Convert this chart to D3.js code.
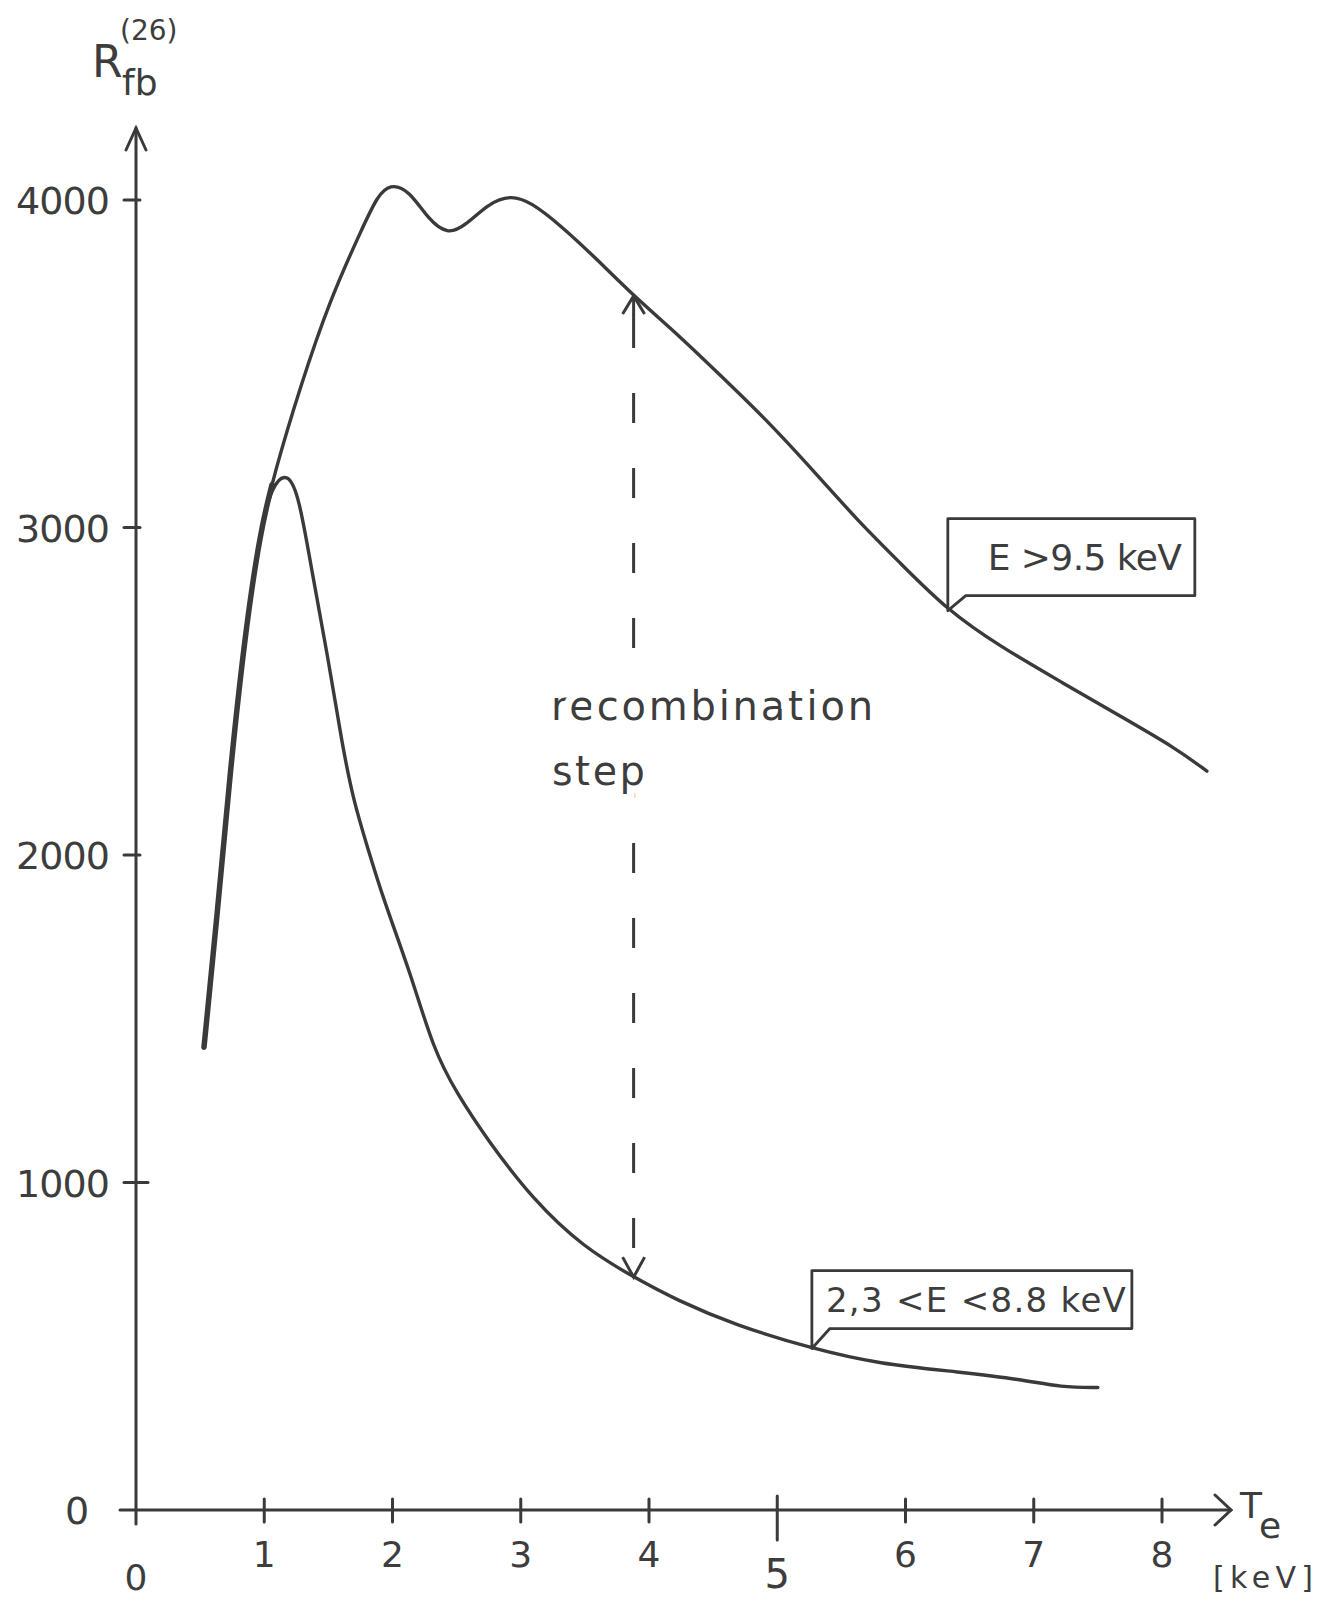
<!DOCTYPE html>
<html>
<head>
<meta charset="utf-8">
<script src="https://cdn.jsdelivr.net/npm/d3@7"></script>
<style>
  body { margin: 0; background: #fff; }
  text { font-family: "DejaVu Sans", sans-serif; fill: #3d3d3d; }
</style>
</head>
<body>
<div id="chart"></div>
<script>
// Values: [Te in keV, R_fb]
var xTicks = [1, 2, 3, 4, 5, 6, 7, 8];
var yTicks = [1000, 2000, 3000, 4000];

var upperCurve = [
  [0.53, 1413], [0.63, 1803], [0.73, 2240], [0.85, 2677], [0.97, 2990],
  [1.08, 3167], [1.28, 3429], [1.51, 3694], [1.77, 3919], [1.88, 4010],
  [1.98, 4050], [2.13, 4030], [2.28, 3940], [2.43, 3895], [2.56, 3919],
  [2.75, 3990], [2.92, 4015], [3.08, 3994], [3.32, 3919], [3.56, 3832],
  [3.88, 3707], [4.20, 3598], [4.51, 3482], [4.91, 3332], [5.31, 3161],
  [5.63, 3020], [5.95, 2895], [6.33, 2746], [6.74, 2636], [7.22, 2527],
  [7.70, 2418], [8.10, 2328], [8.35, 2256]
];

var lowerCurve = [
  [0.53, 1413], [0.63, 1803], [0.73, 2240], [0.85, 2677], [0.97, 2990],
  [1.06, 3130], [1.18, 3170], [1.27, 3100], [1.38, 2846], [1.49, 2620],
  [1.61, 2330], [1.70, 2160], [1.80, 2030], [1.93, 1863], [2.14, 1640],
  [2.32, 1405], [2.50, 1273], [2.74, 1130], [3.10, 945], [3.49, 802],
  [3.88, 711], [4.22, 640], [4.67, 565], [5.27, 493], [5.79, 446],
  [6.43, 421], [6.90, 399], [7.22, 374], [7.50, 374]
];

var upperLabel = "E >9.5 keV";
var lowerLabel = "2,3 <E <8.8 keV";
var stepTe = 3.88;          // where the recombination step arrow is drawn
var upperLabelTe = 6.33;    // callout anchors
var lowerLabelTe = 5.27;

var width = 1334, height = 1602;
var ink = "#3a3a3a";

var svg = d3.select("#chart")
    .append("svg")
    .attr("width", width)
    .attr("height", height);

var x = d3.scaleLinear().domain([0, 8]).range([136, 1162]);
var y = d3.scaleLinear().domain([0, 4000]).range([1510, 200]);

function valueAt(curve, te) {
  var f = d3.scaleLinear().domain(curve.map(function(d) { return d[0]; }))
      .range(curve.map(function(d) { return d[1]; }));
  return f(te);
}

// Axes (drawn by hand like the original)
var axes = svg.append("g")
    .attr("stroke", ink)
    .attr("stroke-width", 3)
    .attr("fill", "none")
    .attr("stroke-linecap", "round");

axes.append("line")
    .attr("x1", x(0)).attr("x2", x(0))
    .attr("y1", y(0) + 14).attr("y2", 128);
axes.append("path")
    .attr("d", "M" + (x(0) - 10) + ",150 L" + x(0) + ",128 L" + (x(0) + 10) + ",150");

axes.append("line")
    .attr("x1", x(0) - 16).attr("x2", 1231)
    .attr("y1", y(0)).attr("y2", y(0));
axes.append("path")
    .attr("d", "M1215," + (y(0) - 15) + " L1231," + y(0) + " L1215," + (y(0) + 15));

// y ticks
axes.selectAll(".ytick")
    .data(yTicks)
    .enter().append("line")
    .attr("x1", x(0) - 12)
    .attr("x2", function(d) { return d == 1000 ? x(0) + 12 : x(0) + 4; })
    .attr("y1", function(d) { return y(d); })
    .attr("y2", function(d) { return y(d); });

// x ticks
axes.selectAll(".xtick")
    .data(xTicks)
    .enter().append("line")
    .attr("x1", function(d) { return x(d); })
    .attr("x2", function(d) { return x(d); })
    .attr("y1", function(d) { return d == 5 ? y(0) - 14 : y(0) - 11; })
    .attr("y2", function(d) { return d == 5 ? y(0) + 30 : y(0) + 12; });

// tick labels
svg.selectAll(".ylabel")
    .data(yTicks)
    .enter().append("text")
    .attr("x", 110)
    .attr("y", function(d) { return y(d) + 14; })
    .attr("text-anchor", "end")
    .attr("font-size", 38)
    .attr("textLength", 94)
    .text(function(d) { return d; });

svg.append("text")
    .attr("x", 77).attr("y", y(0) + 14)
    .attr("text-anchor", "middle")
    .attr("font-size", 38)
    .text("0");

svg.selectAll(".xlabel")
    .data(xTicks)
    .enter().append("text")
    .attr("x", function(d) { return x(d); })
    .attr("y", function(d) { return d == 5 ? y(0) + 78 : y(0) + 57; })
    .attr("text-anchor", "middle")
    .attr("font-size", function(d) { return d == 5 ? 40 : 36; })
    .text(function(d) { return d; });

svg.append("text")
    .attr("x", x(0)).attr("y", y(0) + 80)
    .attr("text-anchor", "middle")
    .attr("font-size", 36)
    .text("0");

// axis titles
var yTitle = svg.append("g");
yTitle.append("text").attr("x", 92).attr("y", 77).attr("font-size", 44).text("R");
yTitle.append("text").attr("x", 122).attr("y", 95).attr("font-size", 36).text("fb");
yTitle.append("text").attr("x", 120).attr("y", 40).attr("font-size", 28).text("(26)");

svg.append("text").attr("x", 1240).attr("y", 1518).attr("font-size", 36).text("T");
svg.append("text").attr("x", 1259).attr("y", 1538).attr("font-size", 36).text("e");
svg.append("text").attr("x", 1213).attr("y", 1588).attr("font-size", 30)
    .attr("textLength", 100).text("[keV]");

// curves
var line = d3.line()
    .x(function(d) { return x(d[0]); })
    .y(function(d) { return y(d[1]); })
    .curve(d3.curveBasis);

svg.selectAll(".curve")
    .data([upperCurve, lowerCurve])
    .enter().append("path")
    .attr("d", line)
    .attr("fill", "none")
    .attr("stroke", ink)
    .attr("stroke-width", 3.4)
    .attr("stroke-linecap", "round")
    .attr("stroke-linejoin", "round");

// the shared rising branch is drawn heavier
svg.append("path")
    .attr("d", line(lowerCurve.slice(0, 6)))
    .attr("fill", "none")
    .attr("stroke", ink)
    .attr("stroke-width", 5.5)
    .attr("stroke-linecap", "round");

// recombination step arrow
var topY = y(valueAt(upperCurve, stepTe));
var botY = y(valueAt(lowerCurve, stepTe));
var sx = x(stepTe);
var step = svg.append("g")
    .attr("stroke", ink)
    .attr("stroke-width", 3)
    .attr("fill", "none");
step.append("line")
    .attr("x1", sx).attr("x2", sx)
    .attr("y1", topY + 22).attr("y2", botY - 4)
    .attr("stroke-dasharray", "30,45");
step.append("line")
    .attr("x1", sx).attr("x2", sx)
    .attr("y1", topY).attr("y2", topY + 22);
step.append("path")
    .attr("d", "M" + (sx - 11) + "," + (topY + 18) + " L" + sx + "," + topY + " L" + (sx + 11) + "," + (topY + 18));
step.append("path")
    .attr("d", "M" + (sx - 11) + "," + (botY - 20) + " L" + sx + "," + botY + " L" + (sx + 11) + "," + (botY - 20));

svg.append("text")
    .attr("x", 551).attr("y", 720)
    .attr("font-size", 40)
    .attr("textLength", 322)
    .attr("stroke", "#fff").attr("stroke-width", 16)
    .attr("paint-order", "stroke")
    .text("recombination");
svg.append("text")
    .attr("x", 552).attr("y", 785)
    .attr("font-size", 40)
    .attr("textLength", 93)
    .attr("stroke", "#fff").attr("stroke-width", 16)
    .attr("paint-order", "stroke")
    .text("step");

// callout boxes
function callout(te, curve, w, h, gap, label, tx, tlen, size) {
  var ax = x(te), ay = y(valueAt(curve, te));
  var top = ay - gap - h, bottom = ay - gap;
  svg.append("path")
    .attr("d", "M" + ax + "," + ay + " L" + ax + "," + top + " L" + (ax + w) + "," + top +
               " L" + (ax + w) + "," + bottom + " L" + (ax + 18) + "," + bottom + " Z")
    .attr("fill", "#fff")
    .attr("stroke", ink)
    .attr("stroke-width", 2.8)
    .attr("stroke-linejoin", "round");
  svg.append("text")
    .attr("x", ax + tx).attr("y", bottom - (h - size * 0.72) / 2)
    .attr("font-size", size)
    .attr("textLength", tlen)
    .text(label);
}

callout(upperLabelTe, upperCurve, 247, 77, 15, upperLabel, 40, 194, 36);
callout(lowerLabelTe, lowerCurve, 320, 58, 20, lowerLabel, 14, 300, 34);
</script>
</body>
</html>
